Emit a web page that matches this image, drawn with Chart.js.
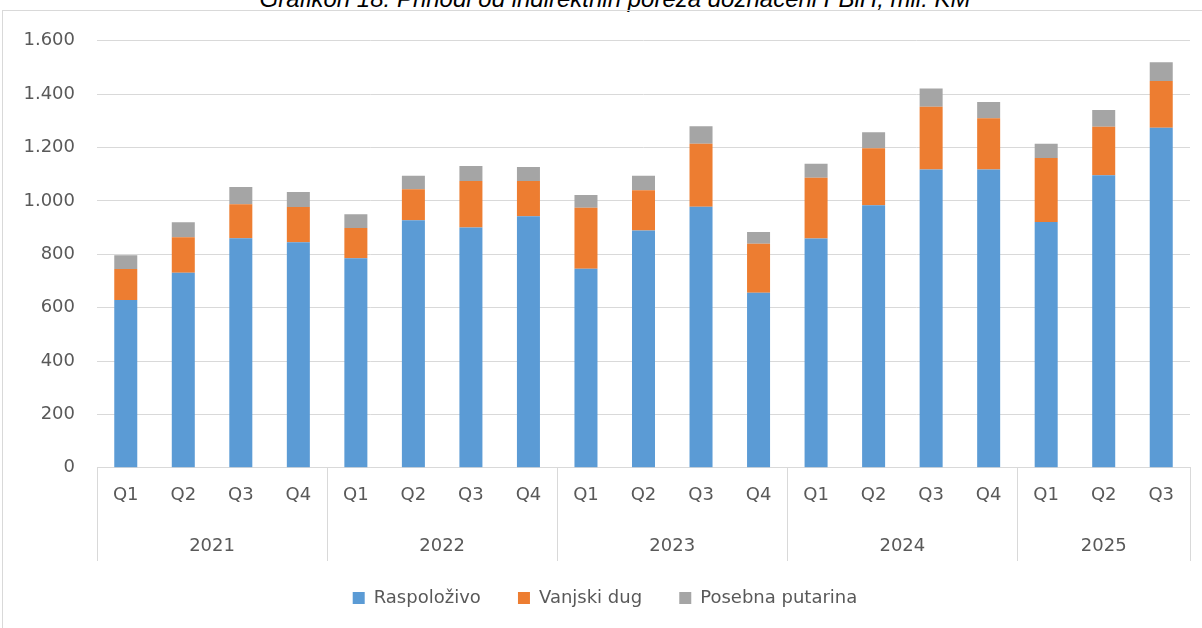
<!DOCTYPE html>
<html>
<head>
<meta charset="utf-8">
<script src="https://cdn.jsdelivr.net/npm/chart.js@4/dist/chart.umd.min.js"></script>
<style>
  html, body { margin: 0; padding: 0; background: #fff; overflow: hidden; }
  body { width: 1202px; height: 628px; position: relative; }
  .frame {
    position: absolute; left: 2px; top: 10px; width: 1210px; height: 640px;
    border-left: 1px solid #d9d9d9; border-top: 1px solid #d9d9d9;
  }
  .title {
    position: absolute; left: 0; width: 1230px; top: -13px; text-align: center;
    font: italic 24px "Liberation Sans", Arial, sans-serif; color: #000;
    line-height: 24px; white-space: nowrap;
  }
  .wrap { position: absolute; left: 3px; top: 8px; width: 1196px; height: 630px; }
</style>
</head>
<body>
<div class="title">Grafikon 18: Prihodi od indirektnih poreza doznačeni FBiH, mil. KM</div>
<div class="frame"></div>
<div class="wrap"><canvas id="chart"></canvas></div>
<script>
const quarters = [
  "Q1", "Q2", "Q3", "Q4",
  "Q1", "Q2", "Q3", "Q4",
  "Q1", "Q2", "Q3", "Q4",
  "Q1", "Q2", "Q3", "Q4",
  "Q1", "Q2", "Q3"
];
const years = ["2021", "2022", "2023", "2024", "2025"];
const yearSizes = [4, 4, 4, 4, 3];

const raspolozivo = [629, 731, 860, 845, 785, 928, 900, 943, 746, 889, 978, 656, 859, 984, 1118, 1118, 921, 1096, 1274];
const vanjskiDug = [116, 133, 128, 132, 114, 116, 175, 132, 228, 151, 236, 184, 228, 213, 235, 192, 240, 182, 175];
const posebnaPutarina = [51, 56, 64, 56, 51, 50, 56, 52, 48, 54, 66, 44, 52, 60, 68, 61, 53, 63, 71];

const yTicks = [0, 200, 400, 600, 800, 1000, 1200, 1400, 1600];

const FONT = "'DejaVu Sans', sans-serif";
const TEXT = "#595959";
const GRID = "#d9d9d9";

// year group centres and boundaries, in category index units
const yearCentres = [];
const yearBounds = [-0.5];
let start = 0;
yearSizes.forEach((n) => {
  yearCentres.push(start + (n - 1) / 2);
  start += n;
  yearBounds.push(start - 0.5);
});

const separators = {
  id: "separators",
  afterDraw(chart) {
    const yearAxis = chart.scales.years;
    const ctx = chart.ctx;
    ctx.save();
    ctx.strokeStyle = GRID;
    ctx.lineWidth = 1;
    yearBounds.forEach((b) => {
      const x = Math.round(yearAxis.getPixelForValue(b)) + 0.5;
      ctx.beginPath();
      ctx.moveTo(x, chart.chartArea.bottom);
      ctx.lineTo(x, yearAxis.bottom - 8);
      ctx.stroke();
    });
    ctx.restore();
  },
};

new Chart(document.getElementById("chart").getContext("2d"), {
  type: "bar",
  data: {
    labels: quarters,
    datasets: [
      { label: "Raspoloživo", data: raspolozivo, backgroundColor: "#5b9bd5" },
      { label: "Vanjski dug", data: vanjskiDug, backgroundColor: "#ed7d31" },
      { label: "Posebna putarina", data: posebnaPutarina, backgroundColor: "#a5a5a5" },
    ],
  },
  options: {
    responsive: true,
    maintainAspectRatio: false,
    animation: false,
    datasets: {
      bar: { categoryPercentage: 1, barPercentage: 0.4 },
    },
    layout: { padding: { left: 17, right: 9, top: 23, bottom: 21 } },
    plugins: {
      tooltip: { enabled: false },
      legend: {
        position: "bottom",
        labels: {
          font: { family: FONT, size: 18 },
          color: TEXT,
          boxWidth: 12,
          boxHeight: 12,
          padding: 20,
          // Excel leaves a wider gap after each entry
          generateLabels: (chart) =>
            Chart.defaults.plugins.legend.labels.generateLabels(chart).map((item, i, all) => ({
              ...item,
              text: i < all.length - 1 ? item.text + "   " : item.text,
            })),
        },
      },
    },
    scales: {
      x: {
        stacked: true,
        grid: { display: false, drawTicks: false },
        border: { display: true, color: GRID },
        ticks: { font: { family: FONT, size: 18 }, color: TEXT, padding: 17, maxRotation: 0, autoSkip: false },
      },
      years: {
        type: "linear",
        position: "bottom",
        offset: false,
        min: -0.5,
        max: quarters.length - 0.5,
        afterBuildTicks: (axis) => {
          axis.ticks = yearCentres.map((v) => ({ value: v }));
          axis.min = -0.5;
          axis.max = quarters.length - 0.5;
        },
        grid: { display: false, drawTicks: false, offset: false },
        border: { display: false },
        ticks: {
          font: { family: FONT, size: 18 },
          color: TEXT,
          padding: 12,
          maxRotation: 0,
          autoSkip: false,
          callback: (value) => years[yearCentres.indexOf(value)],
        },
      },
      y: {
        stacked: true,
        min: 0,
        max: 1600,
        afterBuildTicks: (axis) => {
          axis.ticks = yTicks.map((v) => ({ value: v }));
        },
        afterFit: (axis) => {
          axis.width = 77;
        },
        grid: { color: GRID, drawTicks: false },
        border: { display: false },
        ticks: {
          font: { family: FONT, size: 18 },
          color: TEXT,
          padding: 22,
          callback: (value) => value.toLocaleString("de-DE"),
        },
      },
    },
  },
  plugins: [separators],
});
</script>
</body>
</html>
